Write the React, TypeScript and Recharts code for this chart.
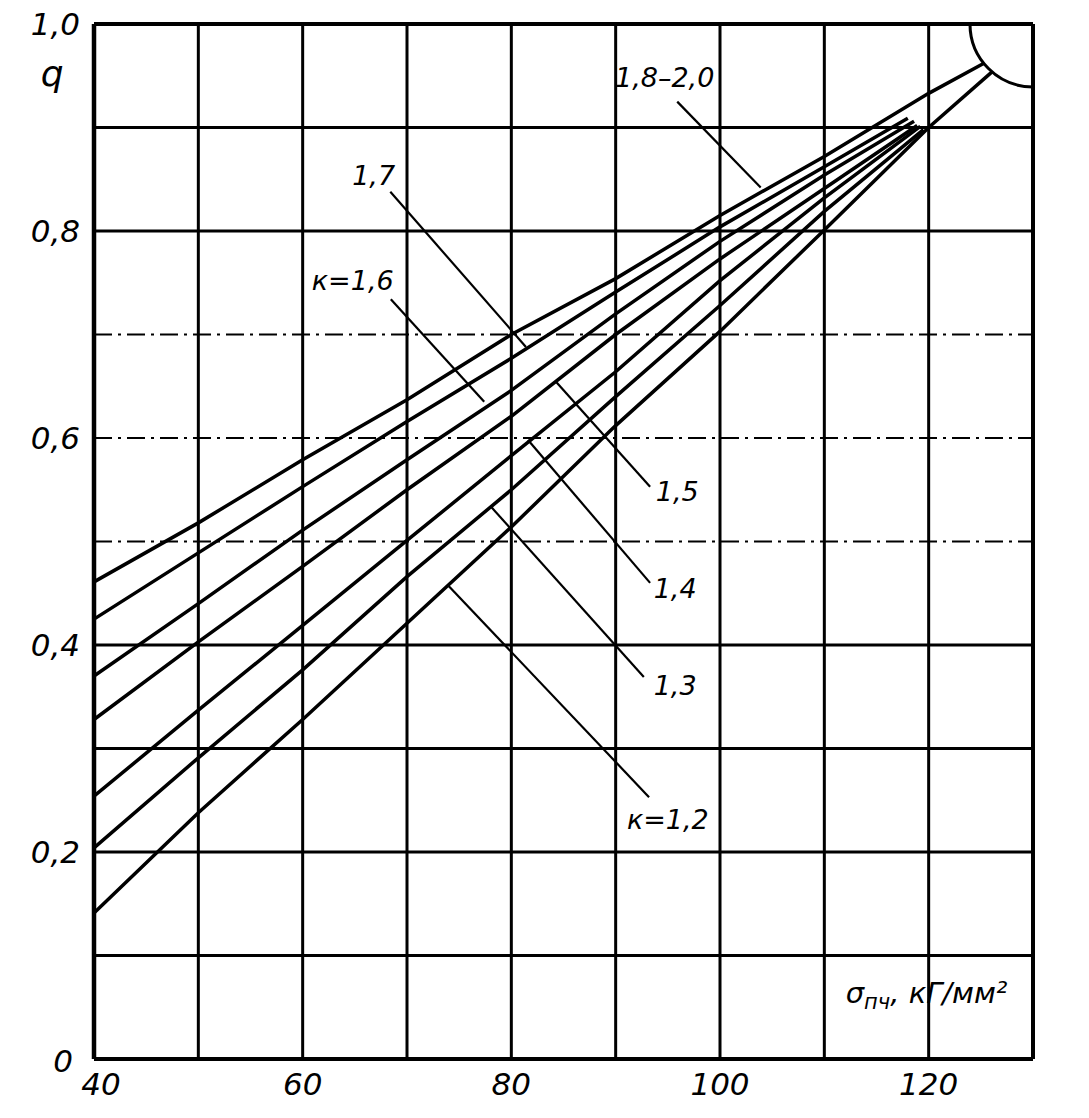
import React from 'react';
import { LineChart, Line, XAxis, YAxis, ReferenceLine, ReferenceDot } from 'recharts';

// axes
const xTicks = [40, 60, 80, 100, 120];
const yTicks = [0, 0.2, 0.4, 0.6, 0.8, 1.0];
const xGridLines = [50, 60, 70, 80, 90, 100, 110, 120];
const ySolidLines = [0.1, 0.2, 0.3, 0.4, 0.8, 0.9];
const yDashedLines = [0.5, 0.6, 0.7];

// q against σпч for each k
const k18to20 = [
  { s: 40, q: 0.461 }, { s: 50, q: 0.518 }, { s: 60, q: 0.579 }, { s: 70, q: 0.637 }, { s: 80, q: 0.7 },
  { s: 90, q: 0.754 }, { s: 100, q: 0.815 }, { s: 110, q: 0.872 }, { s: 120, q: 0.933 }, { s: 125.3, q: 0.962 },
];
const k17 = [
  { s: 40, q: 0.425 }, { s: 50, q: 0.489 }, { s: 60, q: 0.553 }, { s: 70, q: 0.616 }, { s: 80, q: 0.677 },
  { s: 90, q: 0.741 }, { s: 100, q: 0.804 }, { s: 110, q: 0.862 }, { s: 118, q: 0.909 },
];
const k16 = [
  { s: 40, q: 0.37 }, { s: 50, q: 0.44 }, { s: 60, q: 0.511 }, { s: 70, q: 0.579 }, { s: 80, q: 0.646 },
  { s: 90, q: 0.72 }, { s: 100, q: 0.79 }, { s: 110, q: 0.854 }, { s: 118.6, q: 0.906 },
];
const k15 = [
  { s: 40, q: 0.328 }, { s: 50, q: 0.403 }, { s: 60, q: 0.476 }, { s: 70, q: 0.55 }, { s: 80, q: 0.621 },
  { s: 90, q: 0.7 }, { s: 100, q: 0.773 }, { s: 110, q: 0.841 }, { s: 118.9, q: 0.902 },
];
const k14 = [
  { s: 40, q: 0.254 }, { s: 50, q: 0.337 }, { s: 60, q: 0.419 }, { s: 70, q: 0.501 }, { s: 80, q: 0.583 },
  { s: 90, q: 0.664 }, { s: 100, q: 0.752 }, { s: 110, q: 0.832 }, { s: 119.2, q: 0.901 },
];
const k13 = [
  { s: 40, q: 0.204 }, { s: 50, q: 0.291 }, { s: 60, q: 0.376 }, { s: 70, q: 0.466 }, { s: 80, q: 0.55 },
  { s: 90, q: 0.64 }, { s: 100, q: 0.728 }, { s: 110, q: 0.819 }, { s: 119.5, q: 0.898 },
];
const k12 = [
  { s: 40, q: 0.141 }, { s: 50, q: 0.238 }, { s: 60, q: 0.328 }, { s: 70, q: 0.421 }, { s: 80, q: 0.514 },
  { s: 90, q: 0.612 }, { s: 100, q: 0.703 }, { s: 110, q: 0.801 }, { s: 120, q: 0.9 }, { s: 126.1, q: 0.954 },
];

const series = [
  { name: 'k18to20', data: k18to20 },
  { name: 'k17', data: k17 },
  { name: 'k16', data: k16 },
  { name: 'k15', data: k15 },
  { name: 'k14', data: k14 },
  { name: 'k13', data: k13 },
  { name: 'k12', data: k12 },
];

// curve labels with their leader lines
const notes = [
  { text: '1,8–2,0', x: 94.7, y: 0.949, from: { x: 95.9, y: 0.925 }, to: { x: 103.9, y: 0.842 } },
  { text: '1,7', x: 66.8, y: 0.854, from: { x: 68.4, y: 0.838 }, to: { x: 81.4, y: 0.688 } },
  { text: 'к=1,6', x: 64.8, y: 0.752, from: { x: 68.45, y: 0.734 }, to: { x: 77.4, y: 0.635 } },
  { text: '1,5', x: 95.9, y: 0.549, from: { x: 93.3, y: 0.553 }, to: { x: 84.3, y: 0.654 } },
  { text: '1,4', x: 95.7, y: 0.455, from: { x: 93.3, y: 0.46 }, to: { x: 81.6, y: 0.598 } },
  { text: '1,3', x: 95.7, y: 0.361, from: { x: 92.7, y: 0.369 }, to: { x: 78.1, y: 0.533 } },
  { text: 'к=1,2', x: 95.0, y: 0.232, from: { x: 93.2, y: 0.253 }, to: { x: 73.9, y: 0.458 } },
];

const font = { fontFamily: '"DejaVu Sans", sans-serif', fontStyle: 'italic' as const, fill: '#000' };

const fmt = (v: number) => (v === 0 ? '0' : v.toFixed(1).replace('.', ','));

const XTick = ({ x, y, payload }: any) => (
  <text x={x + (payload.value === 40 ? 7 : 0)} y={y + 34} textAnchor="middle" fontSize={31} {...font}>
    {payload.value}
  </text>
);

const YTick = ({ x, y, payload }: any) => {
  const zero = payload.value === 0;
  return (
    <text x={x - (zero ? 19 : 12)} y={y + (zero ? 13 : 11)} textAnchor="end" fontSize={31} {...font}>
      {fmt(payload.value)}
    </text>
  );
};

const noteShape = (text: string) => (p: any) => (
  <text x={p.cx} y={p.cy} dy="0.36em" textAnchor="middle" fontSize={27} {...font}>
    {text}
  </text>
);

const qLabel = (p: any) => (
  <text x={p.cx} y={p.cy} textAnchor="middle" fontSize={36} {...font}>q</text>
);

const sigmaLabel = (p: any) => (
  <text x={p.cx} y={p.cy} textAnchor="middle" fontSize={29} {...font}>
    σ<tspan fontSize={21} dy={6}>пч</tspan>
    <tspan dy={-6}>, кГ/мм²</tspan>
  </text>
);

export default function App() {
  return (
    <div style={{ width: 1089, height: 1118, margin: '-8px 0 0 -8px' }}>
      <LineChart width={1089} height={1118} margin={{ top: 24, right: 56, bottom: 9, left: 24 }}>
        <XAxis
          dataKey="s"
          type="number"
          domain={[40, 130]}
          ticks={xTicks}
          allowDuplicatedCategory={false}
          axisLine={false}
          tickLine={false}
          tickSize={0}
          height={50}
          tick={<XTick />}
        />
        <YAxis
          type="number"
          domain={[0, 1]}
          ticks={yTicks}
          axisLine={false}
          tickLine={false}
          tickSize={0}
          width={70}
          tick={<YTick />}
        />

        {xGridLines.map((v) => (
          <ReferenceLine key={'x' + v} x={v} stroke="#000" strokeWidth={3} />
        ))}
        {ySolidLines.map((v) => (
          <ReferenceLine key={'y' + v} y={v} stroke="#000" strokeWidth={3} />
        ))}
        {yDashedLines.map((v) => (
          <ReferenceLine key={'d' + v} y={v} stroke="#000" strokeWidth={2} strokeDasharray="18 6 3 6" />
        ))}
        <ReferenceLine x={40} stroke="#000" strokeWidth={4.5} />
        <ReferenceLine x={130} stroke="#000" strokeWidth={4} />
        <ReferenceLine y={0} stroke="#000" strokeWidth={4} />
        <ReferenceLine y={1} stroke="#000" strokeWidth={4} />

        {series.map((sr) => (
          <Line
            key={sr.name}
            data={sr.data}
            dataKey="q"
            name={sr.name}
            type="linear"
            stroke="#000"
            strokeWidth={3.5}
            dot={false}
            activeDot={false}
            isAnimationActive={false}
          />
        ))}

        {notes.map((n) => (
          <ReferenceLine
            key={'l' + n.text}
            segment={[n.from, n.to]}
            stroke="#000"
            strokeWidth={2.2}
            ifOverflow="visible"
          />
        ))}
        {notes.map((n) => (
          <ReferenceDot key={'t' + n.text} x={n.x} y={n.y} r={1} ifOverflow="visible" shape={noteShape(n.text)} />
        ))}

        <ReferenceDot x={130} y={1} r={63} fill="none" stroke="#000" strokeWidth={3} ifOverflow="hidden" />
        <ReferenceDot x={36.0} y={0.94} r={1} ifOverflow="visible" shape={qLabel} />
        <ReferenceDot x={119.8} y={0.054} r={1} ifOverflow="visible" shape={sigmaLabel} />
      </LineChart>
    </div>
  );
}
